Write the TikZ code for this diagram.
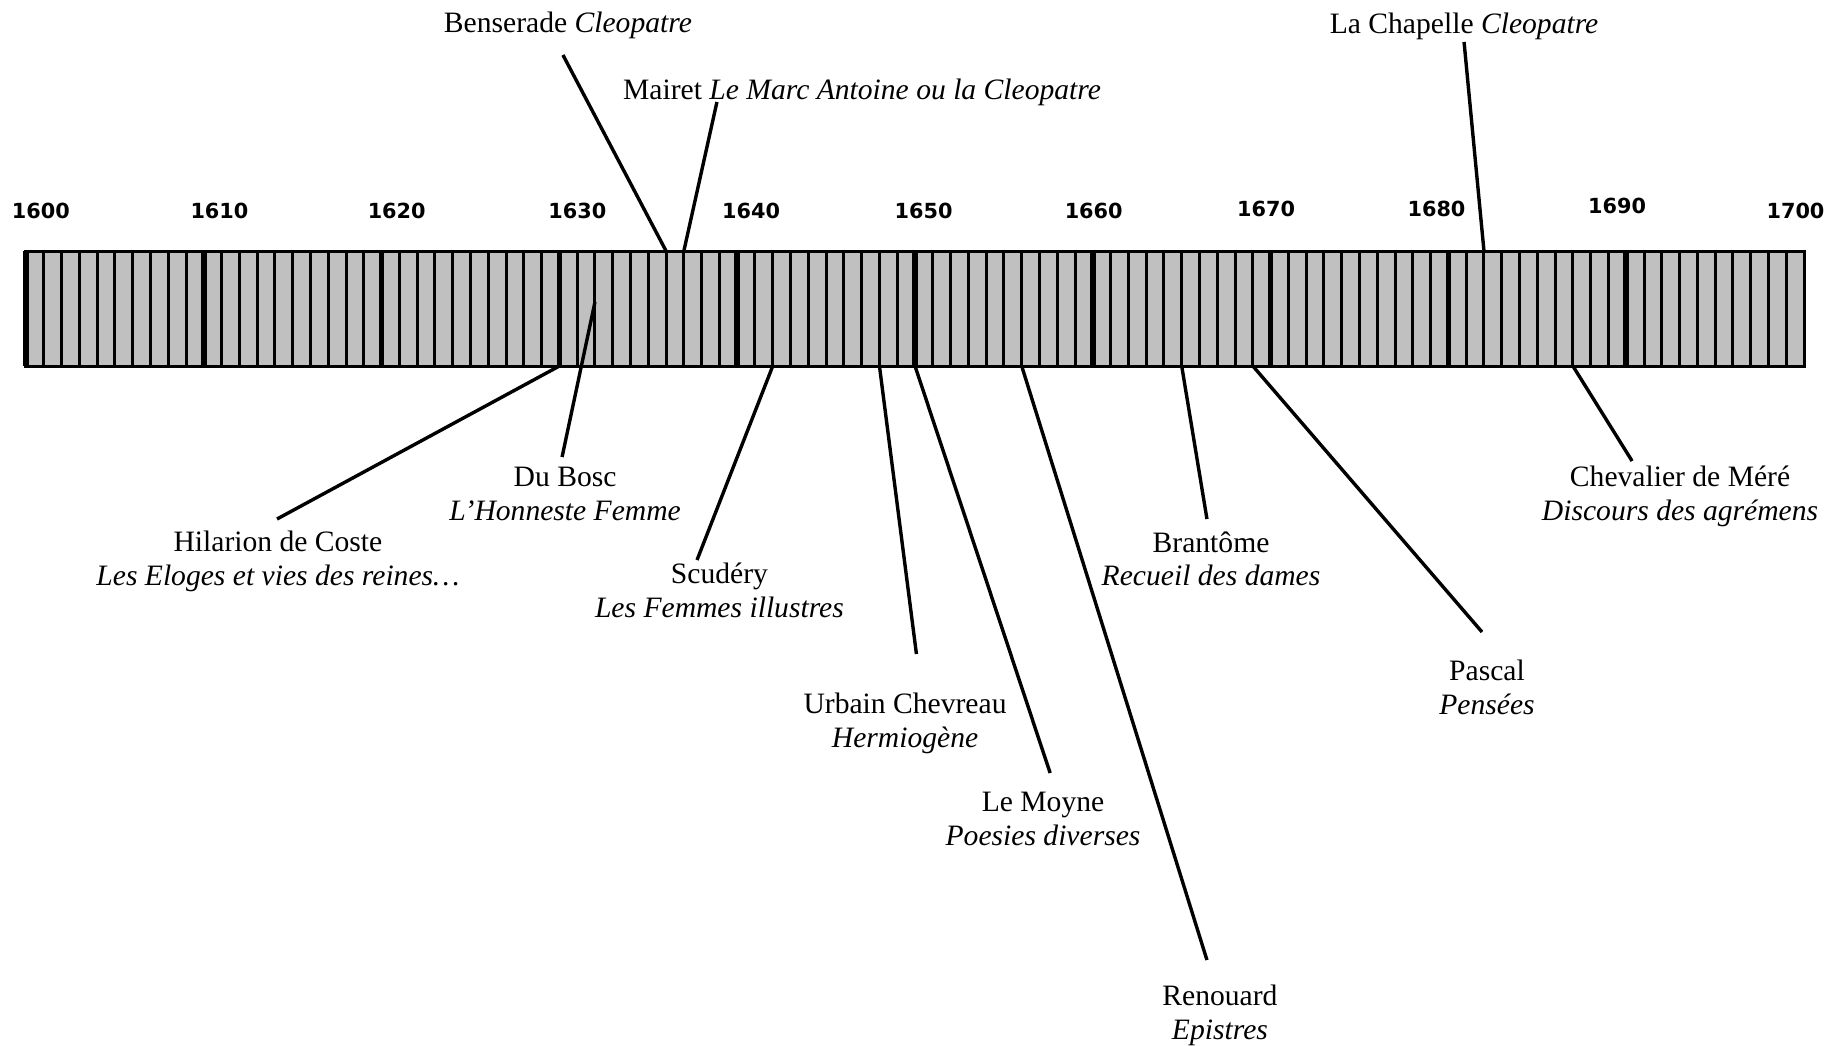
\documentclass[tikz,border=0pt]{standalone}
\usepackage{fontspec}
\setmainfont{Liberation Serif}
\newfontfamily\yearfont{DejaVu Sans}
\usetikzlibrary{positioning}

\definecolor{bargray}{HTML}{C0C0C0}

\tikzset{
  yearlbl/.style={font=\yearfont\bfseries\fontsize{10.4}{12}\selectfont},
  writer/.style={align=center, inner sep=0pt, anchor=north,
    font=\fontsize{14.8}{16.75}\selectfont},
  pointer/.style={line width=1.7pt},
}

\begin{document}
\begin{tikzpicture}[x=8.89pt, y=-0.5pt]
  \useasboundingbox (-1.4623,0) rectangle (102.025,1045);

  % the century, one cell a year
  \draw[fill=bargray, line width=1.5pt] (0,251) rectangle (100,366);
  \foreach \k in {1,...,99}
    \draw[line width=1.5pt] (\k,251) -- (\k,366);
  \foreach \k in {10,20,...,90}
    \draw[line width=2.8pt] (\k,251) -- (\k,366);
  \draw[line width=2.8pt] (0,251) -- (0,366);

  % decades
  \foreach \x/\yy/\yr in {0.84/211/1600, 10.88/211/1610, 20.85/211/1620,
      31.01/211/1630, 40.78/211/1640, 50.48/211/1650, 60.05/211/1660,
      69.75/209/1670, 79.33/209/1680, 89.49/206/1690, 99.52/211/1700}
    \node[yearlbl] (y\yr) at (\x,\yy) {\yr};

  % points on the bar
  \coordinate (t36) at (36,251);
  \coordinate (t37) at (37,251);
  \coordinate (t82) at (82,251);
  \coordinate (m32) at (32,302);
  \foreach \k in {30,42,48,50,56,65,69,87}
    \coordinate (b\k) at (\k,366);

  % ends of the pointers
  \coordinate (benserade-end) at (30.2,55);
  \coordinate (mairet-end) at (38.86,102);
  \coordinate (chapelle-end) at (80.88,42);
  \coordinate (hilarion-end) at (14.12,519);
  \coordinate (dubosc-end) at (30.15,457);
  \coordinate (scudery-end) at (37.74,560);
  \coordinate (urbain-end) at (50.08,654);
  \coordinate (lemoyne-end) at (57.6,773);
  \coordinate (renouard-end) at (66.42,960);
  \coordinate (brantome-end) at (66.42,519);
  \coordinate (pascal-end) at (81.89,632);
  \coordinate (mere-end) at (90.33,461);

  % above the bar
  \node[writer] (benserade) at (30.48,12) {Benserade \textit{Cleopatre}};
  \node[writer] (mairet) at (47.02,79) {Mairet \textit{Le Marc Antoine ou la Cleopatre}};
  \node[writer] (chapelle) at (80.88,13) {La Chapelle \textit{Cleopatre}};

  % below the bar
  \node[writer] (hilarion) at (14.17,531) {Hilarion de Coste\\\textit{Les Eloges et vies des reines…}};
  \node[writer] (dubosc) at (30.32,467) {Du Bosc\\\textit{L’Honneste Femme}};
  \node[writer] (scudery) at (39.0,563) {Scudéry\\\textit{Les Femmes illustres}};
  \node[writer] (urbain) at (49.44,693) {Urbain Chevreau\\\textit{Hermiogène}};
  \node[writer] (lemoyne) at (57.2,792) {Le Moyne\\\textit{Poesies diverses}};
  \node[writer] (renouard) at (67.15,985) {Renouard\\\textit{Epistres}};
  \node[writer] (brantome) at (66.65,531) {Brantôme\\\textit{Recueil des dames}};
  \node[writer] (pascal) at (82.17,660) {Pascal\\\textit{Pensées}};
  \node[writer] (mere) at (93.03,466) {Chevalier de Méré\\\textit{Discours des agrémens}};

  \draw[pointer] (t36) -- (benserade-end);
  \draw[pointer] (t37) -- (mairet-end);
  \draw[pointer] (t82) -- (chapelle-end);
  \draw[pointer] (b30) -- (hilarion-end);
  \draw[pointer] (m32) -- (dubosc-end);
  \draw[pointer] (b42) -- (scudery-end);
  \draw[pointer] (b48) -- (urbain-end);
  \draw[pointer] (b50) -- (lemoyne-end);
  \draw[pointer] (b56) -- (renouard-end);
  \draw[pointer] (b65) -- (brantome-end);
  \draw[pointer] (b69) -- (pascal-end);
  \draw[pointer] (b87) -- (mere-end);
\end{tikzpicture}
\end{document}
